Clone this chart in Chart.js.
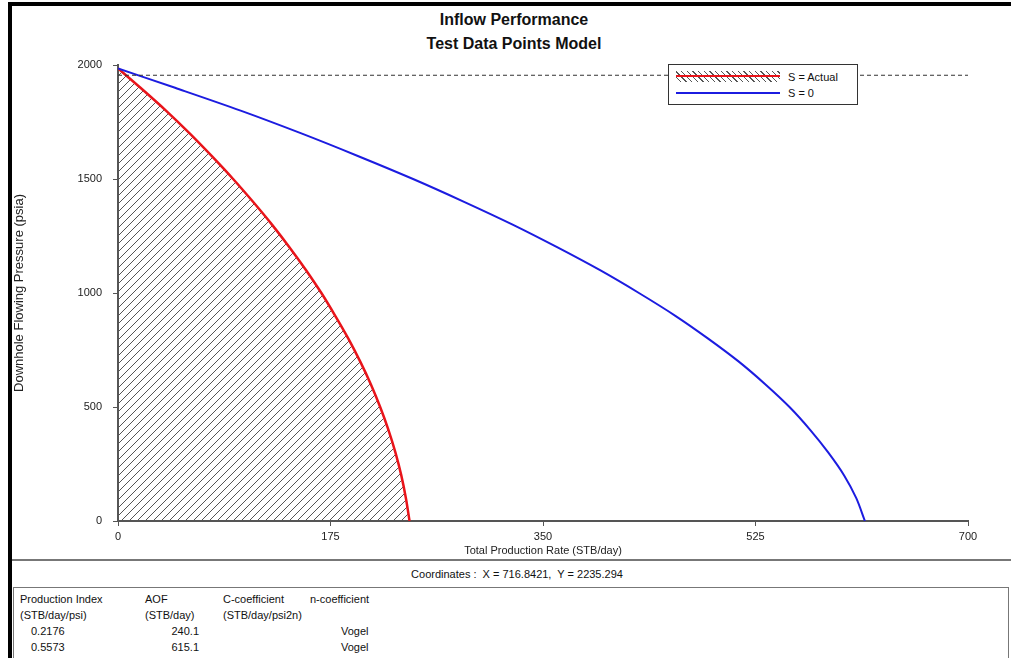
<!DOCTYPE html>
<html>
<head>
<meta charset="utf-8">
<script src="https://cdn.jsdelivr.net/npm/chart.js@4/dist/chart.umd.min.js"></script>
<style>
  body { margin: 0; background: #fff; font-family: "Liberation Sans", Arial, sans-serif; color: #111; }
  #frame { position: relative; width: 1011px; height: 658px; overflow: hidden; }
  .bar-top { position: absolute; left: 8px; top: 2px; width: 1003px; height: 4px; background: #000; }
  .bar-left { position: absolute; left: 8px; top: 2px; width: 4px; height: 656px; background: #000; }
  #title { position: absolute; left: 12px; width: 1004px; top: 8px; text-align: center; font-weight: bold; font-size: 16px; line-height: 24px; }
  #chart { position: absolute; left: 12px; top: 6px; }
  #legend { position: absolute; left: 668px; top: 64px; width: 188px; height: 39px; border: 1px solid #333; background: #fff; font-size: 11px; }
  .row { position: absolute; left: 7px; height: 14px; }
  .row span { position: absolute; left: 112px; top: 0; white-space: nowrap; line-height: 14px; }
  .hatch { position: absolute; left: 0; top: 1px; width: 104px; height: 11px;
    background: repeating-linear-gradient(45deg, transparent 0 3px, #555 3px 4px); }
  .line { position: absolute; left: 0; width: 104px; height: 2px; }
  #sep { position: absolute; left: 12px; top: 559px; width: 999px; height: 2px; background: #777; }
  #coords { position: absolute; left: 12px; width: 1010px; top: 568px; text-align: center; font-size: 11px; }
  #table { position: absolute; left: 13px; top: 587px; width: 994px; height: 80px; border: 1px solid #777; font-size: 11px; }
  .c { position: absolute; white-space: nowrap; }
</style>
</head>
<body>
<div id="frame">
  <div class="bar-top"></div>
  <div class="bar-left"></div>
  <div id="title">Inflow Performance<br>Test Data Points Model</div>
  <canvas id="chart" width="999" height="552"></canvas>
  <div id="legend">
    <div class="row" style="top:5px;width:180px">
      <div class="hatch"></div>
      <div class="line" style="top:5px;background:#e8141a;height:2px"></div>
      <span>S = Actual</span>
    </div>
    <div class="row" style="top:21px;width:180px">
      <div class="line" style="top:6px;background:#1c1ce0"></div>
      <span>S = 0</span>
    </div>
  </div>
  <div id="sep"></div>
  <div id="coords">Coordinates :&nbsp; X = 716.8421,&nbsp; Y = 2235.294</div>
  <div id="table">
    <div class="c" style="left:6px;top:5px">Production Index</div>
    <div class="c" style="left:131px;top:5px">AOF</div>
    <div class="c" style="left:209px;top:5px">C-coefficient</div>
    <div class="c" style="left:296px;top:5px">n-coefficient</div>
    <div class="c" style="left:6px;top:21px">(STB/day/psi)</div>
    <div class="c" style="left:131px;top:21px">(STB/day)</div>
    <div class="c" style="left:209px;top:21px">(STB/day/psi2n)</div>
    <div class="c" style="left:17px;top:37px">0.2176</div>
    <div class="c" style="left:153px;top:37px;width:32px;text-align:right">240.1</div>
    <div class="c" style="left:327px;top:37px">Vogel</div>
    <div class="c" style="left:17px;top:53px">0.5573</div>
    <div class="c" style="left:153px;top:53px;width:32px;text-align:right">615.1</div>
    <div class="c" style="left:327px;top:53px">Vogel</div>
  </div>
</div>
<script>
// Downhole flowing pressure (psia) sampled along both curves
const pressure = [1985, 1900, 1800, 1700, 1600, 1500, 1400, 1300, 1200, 1100, 1000,
                  900, 800, 700, 600, 500, 400, 300, 200, 100, 0];
// S = Actual (red, hatched) rate, STB/day
const rateActual = [0, 18.5, 39.5, 59, 77.3, 94.8, 111.2, 126.8, 141.3, 154.9, 167.5,
                    178.9, 189.7, 199.4, 208.2, 215.9, 222.7, 228.5, 233.3, 237.1, 240.1];
// S = 0 (blue) rate, STB/day
const rateZeroSkin = [0, 47, 101, 151, 198, 243, 285, 325, 362, 397, 429,
                      459, 486, 511, 533, 553, 570, 585, 598, 608, 615.1];
// dashed reference pressure line
const refX = [0, 700];
const refPressure = 1955;

const xTicks = [0, 175, 350, 525, 700];
const yTicks = [0, 500, 1000, 1500, 2000];

// diagonal hatch pattern for the area under the red curve
function hatchPattern() {
  const c = document.createElement('canvas');
  c.width = 8; c.height = 8;
  const g = c.getContext('2d');
  g.strokeStyle = '#555';
  g.lineWidth = 1;
  g.beginPath();
  g.moveTo(0, 8); g.lineTo(8, 0);
  g.moveTo(-1, 1); g.lineTo(1, -1);
  g.moveTo(7, 9); g.lineTo(9, 7);
  g.stroke();
  return g.createPattern(c, 'repeat');
}

const ctx = document.getElementById('chart').getContext('2d');
const font = { family: '"Liberation Sans", Arial, sans-serif', size: 11 };

new Chart(ctx, {
  type: 'scatter',
  data: {
    datasets: [
      {
        label: 'reference',
        data: refX.map(x => ({ x, y: refPressure })),
        showLine: true, borderColor: '#333', borderWidth: 1, borderDash: [4, 3],
        pointRadius: 0
      },
      {
        label: 'S = 0',
        data: pressure.map((p, i) => ({ x: rateZeroSkin[i], y: p })),
        showLine: true, borderColor: '#1c1ce0', borderWidth: 2,
        pointRadius: 0, tension: 0.3
      },
      {
        label: 'S = Actual',
        data: pressure.map((p, i) => ({ x: rateActual[i], y: p })),
        showLine: true, borderColor: '#e8141a', borderWidth: 2.5,
        backgroundColor: hatchPattern(), fill: 'origin',
        pointRadius: 0, tension: 0.3
      }
    ]
  },
  options: {
    responsive: false,
    animation: false,
    devicePixelRatio: 1,
    layout: { padding: { top: 59, right: 43, left: 0, bottom: 0 } },
    plugins: { legend: { display: false }, tooltip: { enabled: false } },
    scales: {
      x: {
        type: 'linear', min: 0, max: 700,
        afterBuildTicks: s => { s.ticks = xTicks.map(v => ({ value: v })); },
        afterFit: s => { s.height = 37; },
        grid: { drawOnChartArea: false, tickLength: 5, color: '#555' },
        border: { color: '#555', width: 2 },
        ticks: { font, color: '#222', padding: 4, maxRotation: 0, callback: v => String(v) },
        title: { display: true, text: 'Total Production Rate (STB/day)', font, color: '#222', padding: { top: 0, bottom: 0 } }
      },
      y: {
        type: 'linear', min: 0, max: 2000,
        afterBuildTicks: s => { s.ticks = yTicks.map(v => ({ value: v })); },
        afterFit: s => { s.width = 106; },
        grid: { drawOnChartArea: false, tickLength: 5, color: '#555' },
        border: { color: '#555', width: 2 },
        ticks: { font, color: '#222', padding: 11, callback: v => String(v) },
        title: { display: true, text: 'Downhole Flowing Pressure (psia)', font: { ...font, size: 13 }, color: '#222', padding: 0 }
      }
    }
  }
});
</script>
</body>
</html>
